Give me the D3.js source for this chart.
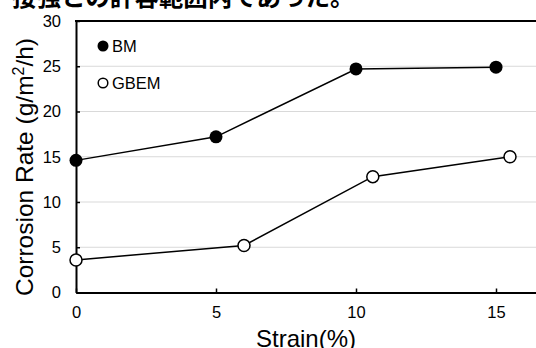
<!DOCTYPE html>
<html>
<head>
<meta charset="utf-8">
<script src="https://cdn.jsdelivr.net/npm/d3@7"></script>
<style>
  html, body { margin: 0; padding: 0; background: #fff; }
  svg { display: block; font-family: Arial, "Liberation Sans", sans-serif; }
</style>
</head>
<body>
<svg width="536" height="348"></svg>
<script>
// data
const strainBM = [0, 5, 10, 15];
const rateBM = [14.6, 17.2, 24.7, 24.9];
const strainGBEM = [0, 6, 10.6, 15.5];
const rateGBEM = [3.6, 5.2, 12.8, 15.0];
const yTicks = [0, 5, 10, 15, 20, 25, 30];
const xTicks = [0, 5, 10, 15];
const legendLabels = ['BM', 'GBEM'];
const caption = '接強との許容範囲内であった。';

const svg = d3.select('svg');
const plotLeft = 76, plotTop = 21, plotBottom = 292.5;

const x = d3.scaleLinear().domain([0, 17]).range([plotLeft, plotLeft + 17 * 28]);
const y = d3.scaleLinear().domain([0, 30]).range([plotBottom, plotTop]);

// cut-off caption line from the page above
svg.append('text')
  .attr('x', 12).attr('y', 6)
  .attr('font-family', '"Noto Sans CJK JP", sans-serif')
  .attr('font-weight', 700)
  .attr('font-size', 24.5)
  .text(caption);

// gridlines
svg.append('g')
  .selectAll('line')
  .data(yTicks.filter(d => d > 0 && d < 30))
  .join('line')
  .attr('x1', plotLeft).attr('x2', 560)
  .attr('y1', d => y(d)).attr('y2', d => y(d))
  .attr('stroke', '#d9d9d9').attr('stroke-width', 1);

// axes
const yAxis = d3.axisLeft(y).tickValues(yTicks).tickSizeInner(-4).tickSizeOuter(0).tickPadding(15);
const gy = svg.append('g').attr('transform', `translate(${plotLeft},0)`).call(yAxis);
gy.select('.domain').attr('stroke', '#000').attr('stroke-width', 2);
gy.selectAll('.tick line').attr('stroke', '#000').attr('stroke-width', 1.5);
gy.selectAll('.tick text').attr('font-size', 16.5).attr('fill', '#000')
  .attr('font-family', 'Arial, "Liberation Sans", sans-serif');

const xAxis = d3.axisBottom(x).tickValues(xTicks).tickSizeInner(-4).tickSizeOuter(0).tickPadding(14);
const gx = svg.append('g').attr('transform', `translate(0,${plotBottom})`).call(xAxis);
gx.select('.domain').attr('stroke', '#000').attr('stroke-width', 2);
gx.selectAll('.tick line').attr('stroke', '#000').attr('stroke-width', 1.5);
gx.selectAll('.tick text').attr('font-size', 16.5).attr('fill', '#000')
  .attr('font-family', 'Arial, "Liberation Sans", sans-serif');

// top border
svg.append('line')
  .attr('x1', plotLeft - 1).attr('x2', 560)
  .attr('y1', plotTop).attr('y2', plotTop)
  .attr('stroke', '#000').attr('stroke-width', 2);

// axis titles
svg.append('text')
  .attr('x', 306).attr('y', 347)
  .attr('text-anchor', 'middle')
  .attr('font-size', 24)
  .text('Strain(%)');

const yt = svg.append('text')
  .attr('transform', 'translate(33,167) rotate(-90)')
  .attr('text-anchor', 'middle')
  .attr('font-size', 24.5);
yt.append('tspan').text('Corrosion Rate (g/m');
yt.append('tspan').attr('font-size', 16).attr('dy', -9).text('2');
yt.append('tspan').attr('dy', 9).text('/h)');

// series
const line = d3.line().x(d => x(d[0])).y(d => y(d[1]));
const bm = strainBM.map((s, i) => [s, rateBM[i]]);
const gbem = strainGBEM.map((s, i) => [s, rateGBEM[i]]);

[bm, gbem].forEach(pts => {
  svg.append('path').datum(pts)
    .attr('d', line)
    .attr('fill', 'none').attr('stroke', '#000').attr('stroke-width', 1.5);
});

svg.append('g').selectAll('circle').data(bm).join('circle')
  .attr('cx', d => x(d[0])).attr('cy', d => y(d[1]))
  .attr('r', 6.5).attr('fill', '#000');

svg.append('g').selectAll('circle').data(gbem).join('circle')
  .attr('cx', d => x(d[0])).attr('cy', d => y(d[1]))
  .attr('r', 6).attr('fill', '#fff').attr('stroke', '#000').attr('stroke-width', 1.5);

// legend
const lg = svg.append('g');
lg.append('circle').attr('cx', 103).attr('cy', 46).attr('r', 5.5).attr('fill', '#000');
lg.append('circle').attr('cx', 103).attr('cy', 83).attr('r', 4.8)
  .attr('fill', '#fff').attr('stroke', '#000').attr('stroke-width', 1.5);
lg.selectAll('text').data(legendLabels).join('text')
  .attr('x', 112).attr('y', (d, i) => 46 + i * 37)
  .attr('dy', '0.35em')
  .attr('font-size', 16.5)
  .text(d => d);
</script>
</body>
</html>
